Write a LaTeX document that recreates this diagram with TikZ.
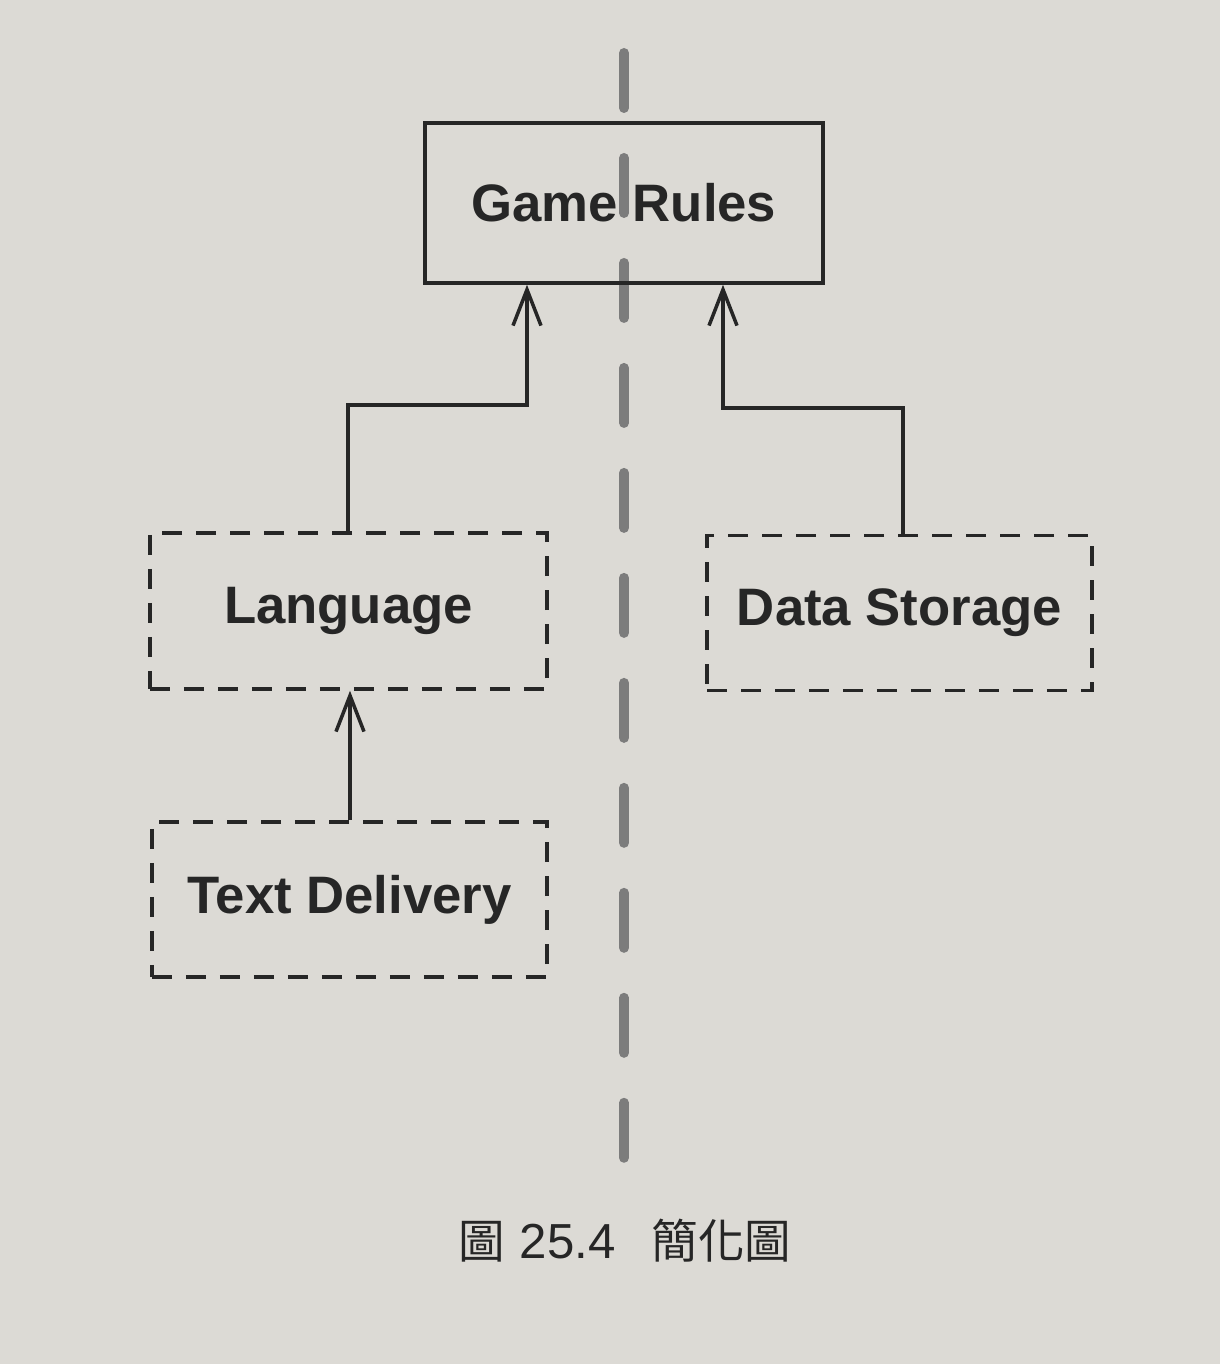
\documentclass[tikz,border=0pt]{standalone}
\usepackage{fontspec}
\setmainfont{Liberation Sans}
\newfontfamily\cjk{Noto Sans CJK TC}
\usetikzlibrary{arrows.meta}
\definecolor{paper}{HTML}{DCDAD5}
\definecolor{ink}{HTML}{262626}
\definecolor{divider}{HTML}{7C7C7C}
\begin{document}
\begin{tikzpicture}[x=0.02cm,y=-0.02cm,
  solidbox/.style={draw=ink,line width=2pt,rectangle,inner sep=0pt,
    font=\fontsize{30}{36}\selectfont\bfseries,text=ink},
  dashbox/.style={solidbox,dash pattern=on 0.4cm off 0.28cm},
  link/.style={draw=ink,line width=2pt,
    -{Straight Barb[length=0.72cm,width=0.56cm,line width=2pt]}},
  divline/.style={draw=divider,line width=0.2cm,line cap=round,
    dash pattern=on 1.1cm off 1.0cm}]
\fill[paper] (0,0) rectangle (1220,1364);
\useasboundingbox (0,0) rectangle (1220,1364);
% divider
\coordinate (dtop) at (624,53);
\coordinate (dbot) at (624,1162);
\draw[divline] (dtop) -- (dbot);
% boxes
\node[solidbox,minimum width=398*0.02cm,minimum height=160*0.02cm] (rules) at (624,203) {Game Rules};
\node[dashbox,minimum width=397*0.02cm,minimum height=156*0.02cm] (lang) at (348.5,611) {Language};
\node[dashbox,minimum width=385*0.02cm,minimum height=155*0.02cm] (store) at (899.5,613) {Data Storage};
\node[dashbox,minimum width=395*0.02cm,minimum height=155*0.02cm] (text) at (349.5,899.5) {Text Delivery};
% connectors
\draw[link] (lang.north -| 348,0) |- (527,405) -- (rules.south -| 527,0);
\draw[link] (store.north -| 903,0) |- (723,408) -- (rules.south -| 723,0);
\draw[link] (text.north -| 350,0) -- (lang.south -| 350,0);
% caption
\node[text=ink,font=\cjk\fontsize{26.5}{30}\selectfont,anchor=west] (cap) at (452,1241) {圖\hspace{0.3cm}{\rmfamily\fontsize{28}{30}\selectfont 25.4}\hspace{0.72cm}簡化圖};
\end{tikzpicture}
\end{document}
